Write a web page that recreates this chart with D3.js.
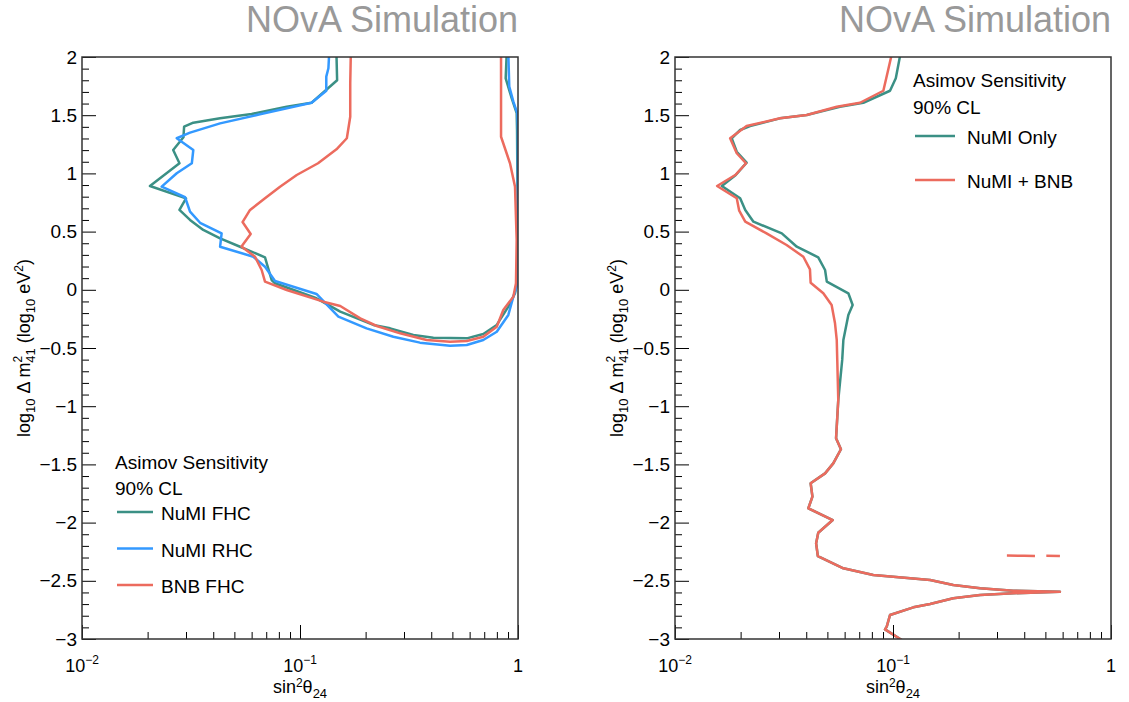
<!DOCTYPE html>
<html>
<head>
<meta charset="utf-8">
<script src="https://cdn.jsdelivr.net/npm/d3@7"></script>
<style>
body { margin: 0; background: #fff; }
svg text { font-family: "Liberation Sans", Arial, sans-serif; fill: #000; }
</style>
</head>
<body>
<div class="container"></div>
<script>
// contour points: [sin^2 theta_24, log10 dm^2_41]
var numiFhc = [
    [0.147, 2.02], [0.148, 1.80], [0.113, 1.607], [0.0869, 1.573], [0.0600, 1.510], [0.0430, 1.473],
    [0.0324, 1.436], [0.0294, 1.401], [0.0292, 1.310], [0.0262, 1.201], [0.0280, 1.087], [0.0205, 0.892],
    [0.0300, 0.786], [0.0280, 0.686], [0.0313, 0.600], [0.0360, 0.514], [0.0430, 0.442], [0.0531, 0.370],
    [0.0691, 0.279], [0.0741, 0.084], [0.0768, 0.056], [0.119, -0.073], [0.153, -0.188], [0.217, -0.302],
    [0.259, -0.331], [0.331, -0.388], [0.409, -0.411], [0.582, -0.417], [0.693, -0.380], [0.799, -0.302],
    [0.903, -0.145], [0.969, -0.030], [0.993, 0.084], [0.995, 0.771], [0.990, 1.373], [0.986, 1.519],
    [0.936, 1.645], [0.878, 1.817], [0.887, 2.02]
];
var numiRhc = [
    [0.136, 2.02], [0.135, 1.903], [0.132, 1.831], [0.132, 1.710], [0.113, 1.607], [0.0655, 1.508],
    [0.0430, 1.430], [0.0313, 1.350], [0.0272, 1.302], [0.0324, 1.201], [0.0319, 1.087], [0.0272, 1.001],
    [0.0232, 0.886], [0.0297, 0.795], [0.0313, 0.671], [0.0348, 0.576], [0.0437, 0.485], [0.0430, 0.370],
    [0.0611, 0.284], [0.0691, 0.198], [0.0768, 0.076], [0.119, -0.036], [0.150, -0.231], [0.202, -0.331],
    [0.268, -0.403], [0.355, -0.454], [0.488, -0.480], [0.582, -0.474], [0.693, -0.431], [0.799, -0.360],
    [0.903, -0.216], [0.952, -0.059], [0.997, 0.056], [0.998, 0.771], [0.999, 1.373], [0.993, 1.516],
    [0.952, 1.616], [0.912, 1.745], [0.903, 2.02]
];
var bnbFhc = [
    [0.171, 2.02], [0.170, 1.774], [0.170, 1.487], [0.164, 1.302], [0.147, 1.207], [0.121, 1.087],
    [0.0966, 0.986], [0.0810, 0.886], [0.0691, 0.786], [0.0590, 0.686], [0.0545, 0.582], [0.0594, 0.479],
    [0.0539, 0.372], [0.0622, 0.284], [0.0667, 0.170], [0.0691, 0.070], [0.0869, -0.002], [0.128, -0.102],
    [0.153, -0.139], [0.189, -0.245], [0.225, -0.311], [0.288, -0.374], [0.381, -0.431], [0.488, -0.446],
    [0.582, -0.440], [0.693, -0.403], [0.799, -0.317], [0.856, -0.174], [0.952, -0.059], [0.979, 0.056],
    [0.986, 0.428], [0.969, 0.886], [0.919, 1.087], [0.836, 1.315], [0.836, 2.02]
];

var numiOnlyTop = [
    [0.108, 2.02], [0.103, 1.817], [0.0969, 1.710], [0.0731, 1.607], [0.0571, 1.573], [0.0402, 1.502],
    [0.0303, 1.473], [0.0221, 1.407], [0.0199, 1.373], [0.0182, 1.302], [0.0192, 1.186], [0.0213, 1.092],
    [0.0190, 0.986], [0.0164, 0.892], [0.0199, 0.786], [0.0210, 0.686], [0.0229, 0.585], [0.0309, 0.485],
    [0.0362, 0.370], [0.0454, 0.279], [0.0488, 0.170], [0.0497, 0.070], [0.0624, -0.030], [0.0653, -0.131],
    [0.0624, -0.216], [0.0592, -0.431], [0.0585, -0.60]
];
var numiBnbTop = [
    [0.0986, 2.02], [0.0946, 1.874], [0.0903, 1.710], [0.0706, 1.607], [0.0552, 1.573], [0.0402, 1.502],
    [0.0303, 1.473], [0.0213, 1.407], [0.0179, 1.302], [0.0192, 1.173], [0.0212, 1.087], [0.0189, 0.986],
    [0.0156, 0.892], [0.0192, 0.786], [0.0197, 0.680], [0.0210, 0.585], [0.0263, 0.485], [0.0325, 0.385],
    [0.0388, 0.284], [0.0416, 0.176], [0.0419, 0.061], [0.0479, -0.030], [0.0523, -0.131], [0.0542, -0.288],
    [0.0552, -0.431], [0.0555, -0.60]
];
// lower part, identical for both right-panel curves
var sharedTail = [
    [0.0561, -0.947], [0.0548, -1.276], [0.0577, -1.370], [0.0532, -1.491], [0.0488, -1.577], [0.0419, -1.662],
    [0.0427, -1.777], [0.0409, -1.877], [0.0529, -1.978], [0.0454, -2.087], [0.0444, -2.178], [0.0452, -2.287],
    [0.0592, -2.393], [0.0812, -2.450], [0.148, -2.493], [0.189, -2.536], [0.251, -2.564], [0.356, -2.585],
    [0.583, -2.594], [0.356, -2.607], [0.251, -2.622], [0.189, -2.650], [0.148, -2.699], [0.124, -2.728],
    [0.0969, -2.794], [0.0936, -2.894], [0.0919, -2.917], [0.112, -3.02]
];
var islandPieces = [
    [[0.333, -2.283], [0.40, -2.285], [0.448, -2.287]],
    [[0.505, -2.285], [0.583, -2.286]]
];

var yMajorTicks = [-3, -2.5, -2, -1.5, -1, -0.5, 0, 0.5, 1, 1.5, 2];
var xMajorTicks = [0.01, 0.1, 1];
var xTickLabels = [
    {value: 0.01, base: '10', exp: '\u22122'},
    {value: 0.1, base: '10', exp: '\u22121'},
    {value: 1, base: '1', exp: ''}
];
var titleText = 'NOvA Simulation';
var legendHeader = ['Asimov Sensitivity', '90% CL'];

var TEAL = '#3b9085', BLUE = '#3399ff', RED = '#ec6b5e';

const WIDTH = 1129, HEIGHT = 702;
const PW = 436, PH = 582, TOP = 57;

var svg = d3.select('.container').append('svg')
    .attr('width', WIDTH)
    .attr('height', HEIGHT);

var xScale = d3.scaleLog().domain([0.01, 1]).range([0, PW]);
var yScale = d3.scaleLinear().domain([-3, 2]).range([PH, 0]);

var contourLine = d3.line()
    .x(function (d) { return xScale(d[0]); })
    .y(function (d) { return yScale(d[1]); });

var drawAxes = function (g) {
    var yMinor = d3.range(-30, 21).map(function (i) { return i / 10; })
        .filter(function (v) { return Math.round(v * 10) % 5 !== 0; });
    var xMinor = [];
    [0.01, 0.1].forEach(function (dec) {
        for (var k = 2; k <= 9; k++) xMinor.push(k * dec);
    });

    g.append('g')
        .call(d3.axisLeft(yScale).tickValues(yMinor).tickSize(-7).tickSizeOuter(0).tickFormat(''))
        .call(function (a) { a.select('.domain').remove(); });
    g.append('g')
        .call(d3.axisLeft(yScale).tickValues(yMajorTicks).tickSize(-14).tickSizeOuter(0)
            .tickPadding(5).tickFormat(d3.format('')))
        .call(function (a) { a.select('.domain').remove(); })
        .attr('font-size', 19)
        .attr('font-family', '"Liberation Sans", Arial, sans-serif');

    g.append('g')
        .attr('transform', 'translate(0,' + PH + ')')
        .call(d3.axisBottom(xScale).tickValues(xMinor).tickSize(-7).tickSizeOuter(0).tickFormat(''))
        .call(function (a) { a.select('.domain').remove(); });
    g.append('g')
        .attr('transform', 'translate(0,' + PH + ')')
        .call(d3.axisBottom(xScale).tickValues(xMajorTicks).tickSize(-14).tickSizeOuter(0).tickFormat(''))
        .call(function (a) { a.select('.domain').remove(); });

    var labels = g.selectAll('.xlab')
        .data(xTickLabels)
        .enter()
        .append('text')
        .classed('xlab', true)
        .attr('x', function (d) { return xScale(d.value); })
        .attr('y', PH + 33)
        .attr('text-anchor', 'middle')
        .attr('font-size', 18);
    labels.append('tspan').text(function (d) { return d.base; });
    labels.append('tspan')
        .attr('dy', -8)
        .attr('font-size', 12)
        .text(function (d) { return d.exp; });

    g.selectAll('.tick line').attr('stroke', '#000').attr('stroke-width', 1);

    g.append('rect')
        .attr('width', PW)
        .attr('height', PH)
        .attr('fill', 'none')
        .attr('stroke', '#333')
        .attr('stroke-width', 1.5);

    // axis titles
    var xt = g.append('text')
        .attr('x', PW / 2)
        .attr('y', PH + 54)
        .attr('text-anchor', 'middle')
        .attr('font-size', 18);
    xt.append('tspan').text('sin');
    xt.append('tspan').attr('dy', -6).attr('font-size', 12).text('2');
    xt.append('tspan').attr('dy', 6).text('\u03b8');
    xt.append('tspan').attr('dy', 5).attr('font-size', 13).text('24');

    var yt = g.append('text')
        .attr('transform', 'translate(-52,' + (PH / 2) + ') rotate(-90)')
        .attr('text-anchor', 'middle')
        .attr('font-size', 18);
    yt.append('tspan').text('log');
    yt.append('tspan').attr('dy', 5).attr('font-size', 13).text('10');
    yt.append('tspan').attr('dy', -5).text(' \u0394 m');
    yt.append('tspan').attr('dy', -8).attr('font-size', 12).text('2');
    yt.append('tspan').attr('dx', -7).attr('dy', 13).attr('font-size', 13).text('41');
    yt.append('tspan').attr('dy', -5).text(' (log');
    yt.append('tspan').attr('dy', 5).attr('font-size', 13).text('10');
    yt.append('tspan').attr('dy', -5).text(' eV');
    yt.append('tspan').attr('dy', -7).attr('font-size', 12).text('2');
    yt.append('tspan').attr('dy', 7).text(')');

    g.append('text')
        .attr('x', PW)
        .attr('y', -25)
        .attr('text-anchor', 'end')
        .attr('font-size', 36)
        .style('fill', '#999')
        .text(titleText);
};

var drawCurves = function (g, id, curves) {
    g.append('clipPath').attr('id', id)
        .append('rect').attr('width', PW).attr('height', PH);
    var area = g.append('g').attr('clip-path', 'url(#' + id + ')');
    curves.forEach(function (c) {
        area.append('path')
            .datum(c.data)
            .attr('d', contourLine)
            .attr('fill', 'none')
            .attr('stroke', c.color)
            .attr('stroke-width', 2.5)
            .attr('stroke-linejoin', 'round');
    });
};

// box: x0, y0 (first header baseline), head gap, first line offset, line gap, line length, text offset
var drawLegend = function (g, box, entries) {
    legendHeader.forEach(function (t, i) {
        g.append('text')
            .attr('x', box.x0)
            .attr('y', box.y0 + i * box.headGap)
            .attr('font-size', 19)
            .text(t);
    });
    entries.forEach(function (e, i) {
        var yy = box.y0 + box.first + i * box.gap;
        g.append('line')
            .attr('x1', box.x0 + 2).attr('x2', box.x0 + 2 + box.len)
            .attr('y1', yy).attr('y2', yy)
            .attr('stroke', e.color)
            .attr('stroke-width', 2.5);
        g.append('text')
            .attr('x', box.x0 + box.textOff)
            .attr('y', yy + 8)
            .attr('font-size', 19)
            .text(e.label);
    });
};

var left = svg.append('g').attr('transform', 'translate(82,' + TOP + ')');
drawCurves(left, 'clipL', [
    {data: numiFhc, color: TEAL},
    {data: numiRhc, color: BLUE},
    {data: bnbFhc, color: RED}
]);
drawAxes(left);
drawLegend(left, {x0: 115 - 82, y0: 469 - TOP, headGap: 26, first: 43, gap: 36.5, len: 36, textOff: 46}, [
    {label: 'NuMI FHC', color: TEAL},
    {label: 'NuMI RHC', color: BLUE},
    {label: 'BNB FHC', color: RED}
]);

var right = svg.append('g').attr('transform', 'translate(675,' + TOP + ')');
var rightCurves = [
    {data: numiOnlyTop.concat(sharedTail), color: TEAL},
    {data: numiBnbTop.concat(sharedTail), color: RED}
];
islandPieces.forEach(function (p) { rightCurves.push({data: p, color: RED}); });
drawCurves(right, 'clipR', rightCurves);
drawAxes(right);
drawLegend(right, {x0: 913 - 675, y0: 87 - TOP, headGap: 27, first: 49, gap: 44, len: 40, textOff: 54}, [
    {label: 'NuMI Only', color: TEAL},
    {label: 'NuMI + BNB', color: RED}
]);
</script>
</body>
</html>
